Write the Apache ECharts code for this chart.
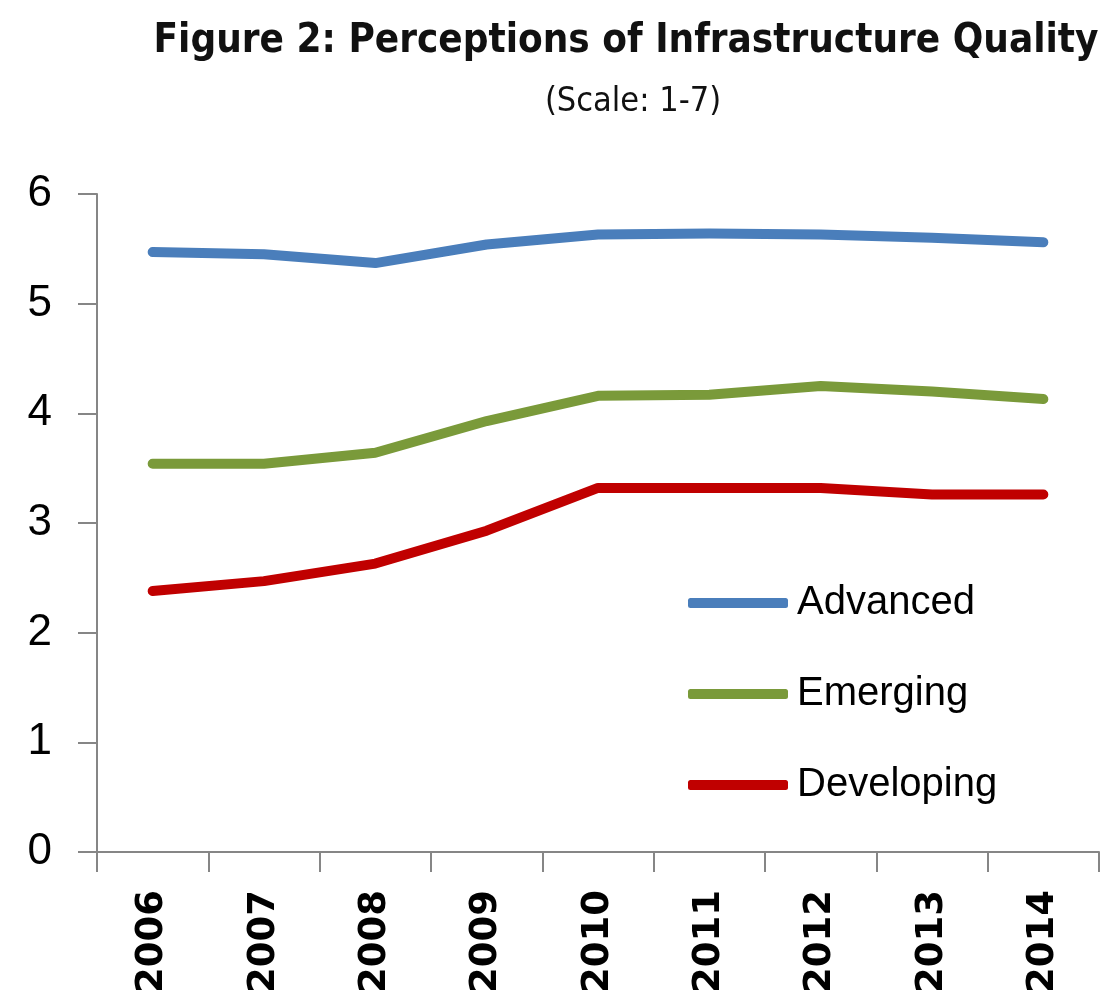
<!DOCTYPE html>
<html>
<head>
<meta charset="utf-8">
<title>Perceptions of Infrastructure Quality</title>
<script src="https://cdn.jsdelivr.net/npm/echarts@6/dist/echarts.min.js"></script>
<style>
  html, body { margin: 0; padding: 0; background: #fff; }
  #chart { width: 1112px; height: 1006px; }
</style>
</head>
<body>
<div id="chart"></div>
<script>
// data
var years = ['2006', '2007', '2008', '2009', '2010', '2011', '2012', '2013', '2014'];
var advanced = [5.47, 5.45, 5.37, 5.54, 5.63, 5.64, 5.63, 5.60, 5.56];
var emerging = [3.54, 3.54, 3.64, 3.93, 4.16, 4.17, 4.25, 4.20, 4.13];
var developing = [2.38, 2.47, 2.63, 2.93, 3.32, 3.32, 3.32, 3.26, 3.26];
var seriesNames = ['Advanced', 'Emerging', 'Developing'];

var color = ['#4A7EBB', '#7A9A3A', '#C00000'];
var narrow = "'Liberation Sans Narrow', 'DejaVu Sans Condensed', 'Liberation Sans', sans-serif";

var myChart = echarts.init(document.getElementById('chart'));

function lineSeries(name, data, c) {
  return {
    name: name,
    type: 'line',
    data: data,
    symbol: 'none',
    smooth: false,
    lineStyle: { width: 10, color: c, cap: 'round', join: 'round' },
    itemStyle: { color: c }
  };
}

var option = {
  animation: false,
  backgroundColor: '#fff',
  color: color,
  title: [{
    text: 'Figure 2: Perceptions of Infrastructure Quality',
    left: 621,
    top: 17,
    textAlign: 'center',
    textStyle: { fontFamily: narrow, fontWeight: 'bold', fontSize: 40, color: '#111' }
  }, {
    text: '(Scale: 1-7)',
    left: 628,
    top: 80,
    textAlign: 'center',
    textStyle: { fontFamily: narrow, fontWeight: 'normal', fontSize: 34, color: '#111' }
  }],
  legend: {
    orient: 'vertical',
    left: 688,
    top: 580,
    padding: 0,
    itemWidth: 100,
    itemHeight: 10,
    itemGap: 45,
    icon: 'roundRect',
    data: seriesNames,
    textStyle: {
      fontFamily: "'Liberation Sans', sans-serif",
      fontSize: 40,
      lineHeight: 46,
      color: '#000',
      padding: [0, 0, 0, 4]
    }
  },
  grid: {
    left: 97,
    right: 13,
    top: 194,
    bottom: 154,
    containLabel: false
  },
  xAxis: {
    type: 'category',
    data: years,
    boundaryGap: true,
    axisLine: { show: true, lineStyle: { color: '#868686', width: 2 } },
    axisTick: { show: true, length: 20, alignWithLabel: false, lineStyle: { color: '#868686', width: 2 } },
    axisLabel: {
      rotate: 90,
      margin: 38,
      fontFamily: "'DejaVu Sans', sans-serif",
      fontWeight: 'bold',
      fontSize: 37,
      color: '#000'
    },
    splitLine: { show: false }
  },
  yAxis: {
    type: 'value',
    min: 0,
    max: 6,
    interval: 1,
    axisLine: { show: true, lineStyle: { color: '#868686', width: 2 } },
    axisTick: { show: true, length: 19, lineStyle: { color: '#868686', width: 2 } },
    axisLabel: {
      margin: 45,
      fontFamily: "'Liberation Sans', sans-serif",
      fontSize: 44,
      color: '#000'
    },
    splitLine: { show: false }
  },
  series: [
    lineSeries(seriesNames[0], advanced, color[0]),
    lineSeries(seriesNames[1], emerging, color[1]),
    lineSeries(seriesNames[2], developing, color[2])
  ]
};

myChart.setOption(option);
</script>
</body>
</html>
